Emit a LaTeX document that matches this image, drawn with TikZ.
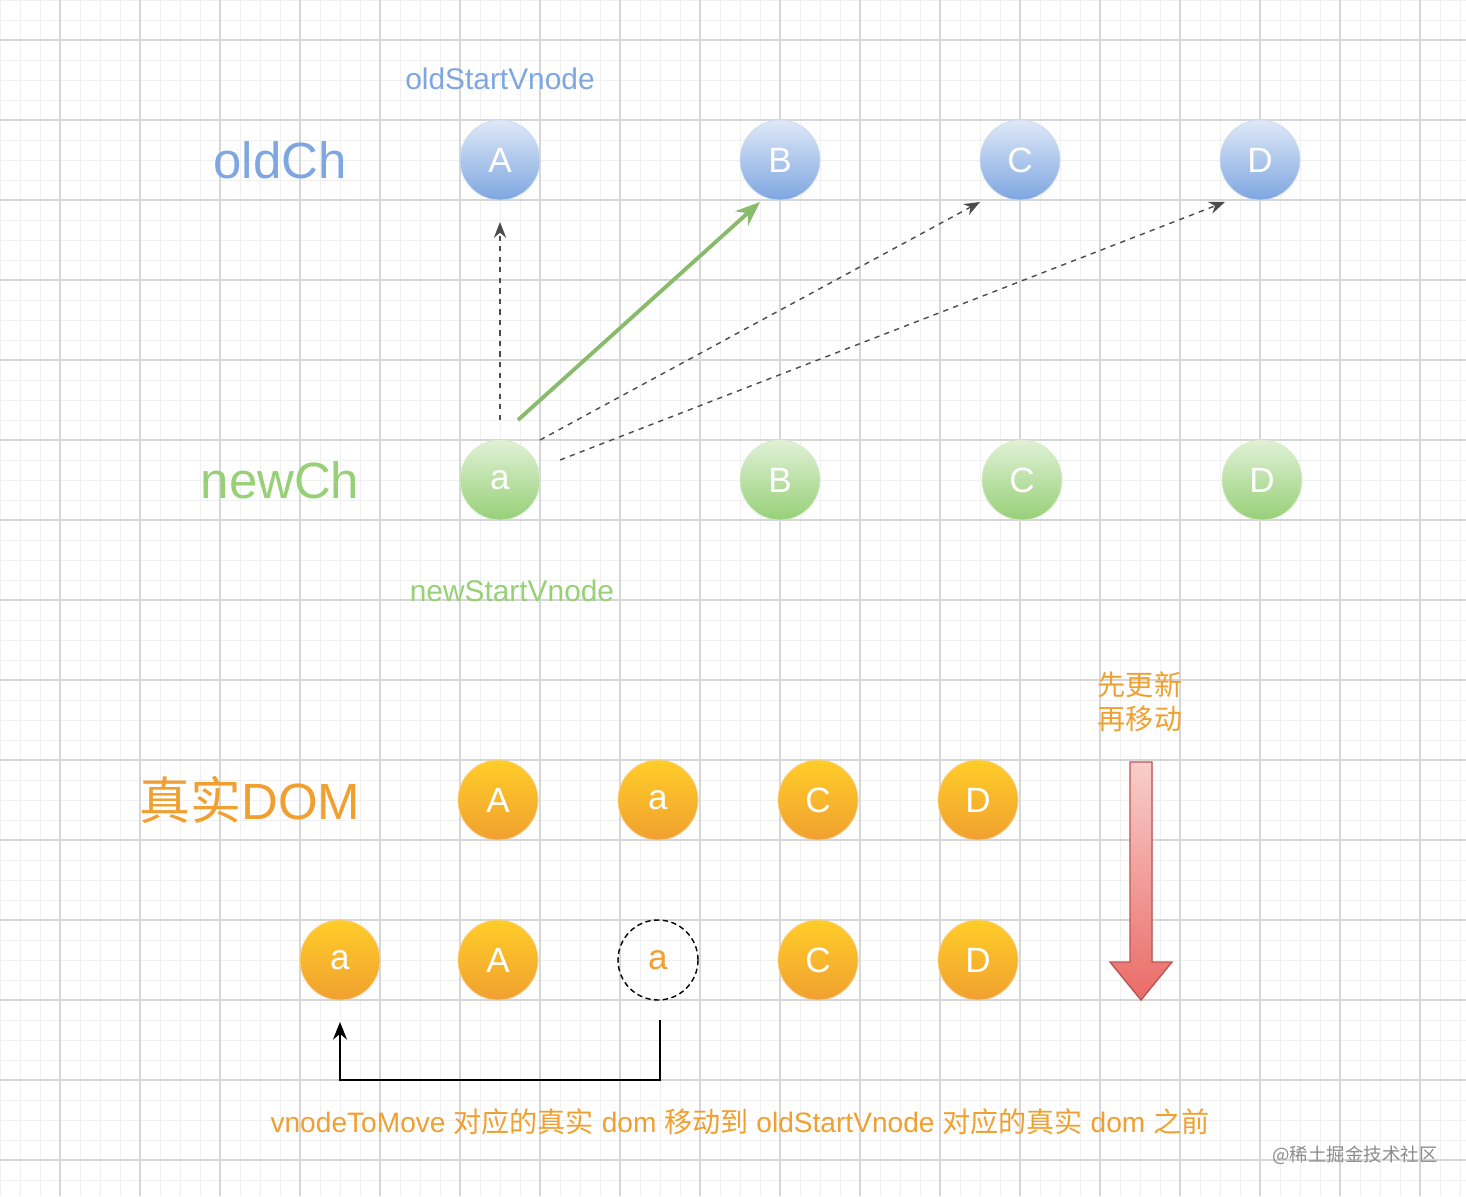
\documentclass[tikz,border=0pt]{standalone}
\usepackage{fontspec}
\setmainfont{Liberation Sans}
\newfontfamily\cjk{Noto Sans CJK SC}
\usetikzlibrary{arrows.meta,shapes.arrows}
\definecolor{bl}{HTML}{7EA6E0}
\definecolor{gr}{HTML}{97D077}
\definecolor{og}{HTML}{F0A030}
\definecolor{oy}{HTML}{FFCD28}
\definecolor{rt}{HTML}{F8CECC}
\definecolor{rb}{HTML}{EA6B66}
\tikzset{
 x=0.02cm,y=-0.02cm,
 circ/.style={circle,minimum size=1.6cm,inner sep=0pt,text=white,font=\fontsize{20}{20}\selectfont},
 blue/.style={circ,draw=bl!40,top color=bl!25,bottom color=bl},
 green/.style={circ,draw=gr!40,top color=gr!30,bottom color=gr},
 orange/.style={circ,draw=og!50,top color=oy,bottom color=og},
 dasharr/.style={draw=black!70,dashed,line width=0.8pt,-{Stealth[length=9pt,width=7pt]}},
}
\begin{document}
\begin{tikzpicture}
\useasboundingbox (0,0) rectangle (1466,1196);
\fill[white] (0,0) rectangle (1466,1196);
\foreach \i in {0,20,...,1460} \draw[black!6,line width=0.5pt] (\i,0) -- (\i,1196);
\foreach \i in {0,20,...,1190} \draw[black!6,line width=0.5pt] (0,\i) -- (1466,\i);
\foreach \i in {60,140,...,1460} \draw[black!16,line width=0.6pt] (\i,0) -- (\i,1196);
\foreach \i in {40,120,...,1190} \draw[black!16,line width=0.6pt] (0,\i) -- (1466,\i);

\node[text=bl,font=\fontsize{29}{29}\selectfont] (oldch) at (280,160) {oldCh};
\node[text=gr,font=\fontsize{29}{29}\selectfont] (newch) at (280,480) {newCh};
\node[text=og,font=\fontsize{29}{29}\selectfont] (dom) at (250,800) {{\cjk 真实}DOM};
\node[text=bl,font=\fontsize{17}{17}\selectfont] (osv) at (500,79) {oldStartVnode};
\node[text=gr,font=\fontsize{17}{17}\selectfont] (nsv) at (512,591) {newStartVnode};

\node[blue] (oA) at (500,160) {A};
\node[blue] (oB) at (780,160) {B};
\node[blue] (oC) at (1020,160) {C};
\node[blue] (oD) at (1260,160) {D};
\node[green] (na) at (500,480) {a};
\node[green] (nB) at (780,480) {B};
\node[green] (nC) at (1022,480) {C};
\node[green] (nD) at (1262,480) {D};

\node[orange] (dA) at (498,800) {A};
\node[orange] (da) at (658,800) {a};
\node[orange] (dC) at (818,800) {C};
\node[orange] (dD) at (978,800) {D};
\node[orange] (ea) at (340,960) {a};
\node[orange] (eA) at (498,960) {A};
\node[circ,draw=black,densely dashed,thick,text=og] (ex) at (658,960) {a};
\node[orange] (eC) at (818,960) {C};
\node[orange] (eD) at (978,960) {D};

\coordinate (s1) at (500,420); \coordinate (t1) at (500,222);
\coordinate (s2) at (518,420); \coordinate (t2) at (760,202);
\coordinate (s3) at (540,440); \coordinate (t3) at (980,202);
\coordinate (s4) at (560,460); \coordinate (t4) at (1225,202);
\draw[dasharr] (s1) -- (t1);
\draw[gr!90!black,line width=2.2pt,-{Stealth[length=14pt,width=11pt]}] (s2) -- (t2);
\draw[dasharr] (s3) -- (t3);
\draw[dasharr] (s4) -- (t4);

\coordinate (b1) at (660,1020); \coordinate (b2) at (340,1022);
\draw[black,line width=1.2pt,-{Stealth[length=10pt,width=8pt]}] (b1) -- (660,1080) -- (340,1080) -- (b2);

\node[text=og,font=\fontsize{16}{19}\selectfont\cjk,align=left] (lbl) at (1140,702) {先更新\\再移动};
\fill[draw=rb!80!black,line width=0.8pt,top color=rt,bottom color=rb] (1130,762) -- (1152,762) -- (1152,962) -- (1172,962) -- (1141,1000) -- (1110,962) -- (1130,962) -- cycle;

\node[text=og,font=\fontsize{16}{16}\selectfont] (bot) at (740,1122) {vnodeToMove {\cjk 对应的真实} dom {\cjk 移动到} oldStartVnode {\cjk 对应的真实} dom {\cjk 之前}};
\node[text=black!45,font=\fontsize{10.5}{10.5}\selectfont\cjk] (wm) at (1355,1155) {@稀土掘金技术社区};
\end{tikzpicture}
\end{document}
